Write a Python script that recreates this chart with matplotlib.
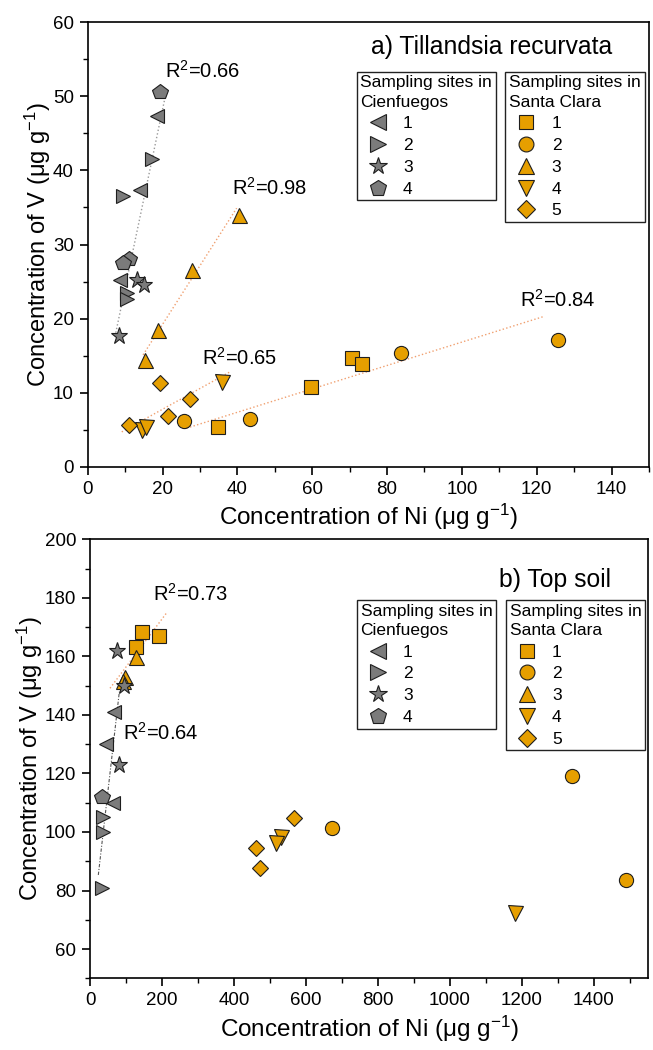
import matplotlib
matplotlib.use("Agg")
import matplotlib.pyplot as plt
from matplotlib.lines import Line2D
from matplotlib.ticker import MultipleLocator

plt.rcParams['font.family'] = ['Liberation Sans', 'DejaVu Sans']
plt.rcParams['mathtext.fontset'] = 'custom'
plt.rcParams['mathtext.rm'] = 'Liberation Sans'
plt.rcParams['mathtext.it'] = 'Liberation Sans:italic'

# ---------------- data: a) Tillandsia recurvata ----------------
top_cf1_ni = [18.6, 14.1, 8.6]
top_cf1_v = [47.3, 37.4, 25.2]
top_cf2_ni = [17.3, 9.3, 10.4, 10.6]
top_cf2_v = [41.6, 36.5, 23.4, 22.7]
top_cf3_ni = [13.2, 15.1, 8.4]
top_cf3_v = [25.2, 24.5, 17.7]
top_cf4_ni = [19.3, 11.1, 9.3]
top_cf4_v = [50.6, 28.0, 27.5]

top_sc1_ni = [34.9, 59.6, 70.5, 73.4]
top_sc1_v = [5.3, 10.7, 14.7, 13.9]
top_sc2_ni = [25.7, 43.5, 83.8, 125.8]
top_sc2_v = [6.2, 6.5, 15.4, 17.1]
top_sc3_ni = [40.5, 27.8, 18.8, 15.3]
top_sc3_v = [34.0, 26.6, 18.5, 14.4]
top_sc4_ni = [35.8, 14.4, 15.7]
top_sc4_v = [11.5, 5.0, 5.4]
top_sc5_ni = [19.3, 27.3, 21.5, 11.0]
top_sc5_v = [11.3, 9.1, 6.8, 5.6]

# trend lines (start/end) and R2 labels
top_trend_ni = [(7.3, 20.9), (14.8, 39.8), (9.1, 38.0), (26.4, 122.0)]
top_trend_v = [(17.6, 50.4), (15.1, 34.9), (4.7, 12.8), (5.2, 20.3)]
top_trend_group = ['cf', 'sc', 'sc', 'sc']
top_r2_text = ['R$^2$=0.66', 'R$^2$=0.98', 'R$^2$=0.65', 'R$^2$=0.84']
top_r2_ni = [20.7, 38.6, 30.5, 115.4]
top_r2_v = [53.5, 37.6, 14.7, 22.5]

# ---------------- data: b) Top soil ----------------
bot_cf1_ni = [64.8, 44.4, 67.6]
bot_cf1_v = [109.8, 130.0, 141.1]
bot_cf2_ni = [32.4, 35.2, 37.0]
bot_cf2_v = [80.9, 100.1, 105.2]
bot_cf3_ni = [80.6, 95.4, 76.0]
bot_cf3_v = [122.9, 149.9, 161.9]
bot_cf4_ni = [32.4]
bot_cf4_v = [111.8]

bot_sc1_ni = [143.5, 191.7, 126.8]
bot_sc1_v = [168.4, 167.0, 163.3]
bot_sc2_ni = [673.1, 1338.0, 1489.0]
bot_sc2_v = [101.3, 119.1, 83.6]
bot_sc3_ni = [127.8, 97.2, 92.0]
bot_sc3_v = [159.7, 153.0, 151.5]
bot_sc4_ni = [530.6, 516.7, 1180.6]
bot_sc4_v = [98.2, 96.3, 72.2]
bot_sc5_ni = [567.5, 461.1, 472.2]
bot_sc5_v = [104.9, 94.6, 87.6]

bot_trend_ni = [(23.1, 81.5), (55.6, 213.0)]
bot_trend_v = [(85.3, 147.9), (149.1, 174.9)]
bot_trend_group = ['cf', 'sc']
bot_r2_text = ['R$^2$=0.64', 'R$^2$=0.73']
bot_r2_ni = [90.7, 175.9]
bot_r2_v = [133.9, 181.2]

site_labels_cf = ['1', '2', '3', '4']
site_labels_sc = ['1', '2', '3', '4', '5']

# ---------------- styles ----------------
GRAY = '#7b7b7b'
ORANGE = '#E69F00'
EDGE = '#1e1e1e'
cf_markers = [('<', 10.5), ('>', 10.5), ('*', 12.5), ('p', 11.5)]
sc_markers = [('s', 9.8), ('o', 10.2), ('^', 10.8), ('v', 10.8), ('D', 8.6)]
trend_style = {'cf': dict(color='#9a9a9a', ls=':', lw=1.0),
               'sc': dict(color='#F0A070', ls=':', lw=1.0)}
bot_trend_style = {'cf': dict(color='#555555', ls=(0, (3, 1.5, 1, 1.5)), lw=0.8),
                   'sc': dict(color='#F0A070', ls=':', lw=1.0)}

fig = plt.figure(figsize=(6.53, 10.5), dpi=100)
ax1 = fig.add_axes([87.7/653, 1-466.7/1050, 561.3/653, 444.4/1050])
ax2 = fig.add_axes([90/653, 1-978.3/1050, 558/653, 439/1050])

def draw_points(ax, groups, markers, color):
    for (xs, ys), (m, ms) in zip(groups, markers):
        ax.plot(xs, ys, ls='none', marker=m, ms=ms, mfc=color, mec=EDGE,
                mew=0.8, zorder=3)

top_cf = [(top_cf1_ni, top_cf1_v), (top_cf2_ni, top_cf2_v),
          (top_cf3_ni, top_cf3_v), (top_cf4_ni, top_cf4_v)]
top_sc = [(top_sc1_ni, top_sc1_v), (top_sc2_ni, top_sc2_v), (top_sc3_ni, top_sc3_v),
          (top_sc4_ni, top_sc4_v), (top_sc5_ni, top_sc5_v)]
bot_cf = [(bot_cf1_ni, bot_cf1_v), (bot_cf2_ni, bot_cf2_v),
          (bot_cf3_ni, bot_cf3_v), (bot_cf4_ni, bot_cf4_v)]
bot_sc = [(bot_sc1_ni, bot_sc1_v), (bot_sc2_ni, bot_sc2_v), (bot_sc3_ni, bot_sc3_v),
          (bot_sc4_ni, bot_sc4_v), (bot_sc5_ni, bot_sc5_v)]

for xs, ys, g in zip(top_trend_ni, top_trend_v, top_trend_group):
    ax1.plot(xs, ys, zorder=2, **trend_style[g])
for xs, ys, g in zip(bot_trend_ni, bot_trend_v, bot_trend_group):
    ax2.plot(xs, ys, zorder=2, **bot_trend_style[g])

draw_points(ax1, top_sc, sc_markers, ORANGE)
draw_points(ax1, top_cf, cf_markers, GRAY)
draw_points(ax2, bot_sc, sc_markers, ORANGE)
draw_points(ax2, bot_cf, cf_markers, GRAY)

for t, x, y in zip(top_r2_text, top_r2_ni, top_r2_v):
    ax1.text(x, y, t, fontsize=14.5, va='center', ha='left')
for t, x, y in zip(bot_r2_text, bot_r2_ni, bot_r2_v):
    ax2.text(x, y, t, fontsize=14.5, va='center', ha='left')

ax1.text(0.934, 0.944, 'a) Tillandsia recurvata', transform=ax1.transAxes,
         fontsize=17.8, ha='right', va='center')
ax2.text(0.934, 0.907, 'b) Top soil', transform=ax2.transAxes,
         fontsize=17.8, ha='right', va='center')

# axes formatting
ax1.set_xlim(0, 150)
ax1.set_ylim(0, 60)
ax1.xaxis.set_major_locator(MultipleLocator(20))
ax1.xaxis.set_minor_locator(MultipleLocator(10))
ax1.yaxis.set_major_locator(MultipleLocator(10))
ax1.yaxis.set_minor_locator(MultipleLocator(5))
ax2.set_xlim(0, 1550)
ax2.set_ylim(50, 200)
ax2.xaxis.set_major_locator(MultipleLocator(200))
ax2.xaxis.set_minor_locator(MultipleLocator(100))
ax2.yaxis.set_major_locator(MultipleLocator(20))
ax2.yaxis.set_minor_locator(MultipleLocator(10))
ax2.set_yticks([60, 80, 100, 120, 140, 160, 180, 200])

xlab = 'Concentration of Ni (μg g$^{-1}$)'
ylab = 'Concentration of V (μg g$^{-1}$)'
for ax in (ax1, ax2):
    for sp in ax.spines.values():
        sp.set_linewidth(1.2)
    ax.tick_params(which='major', direction='out', length=6, width=1.2,
                   labelsize=13.5, pad=4)
    ax.tick_params(which='minor', direction='out', length=3.5, width=1.0)
    ax.set_xlabel(xlab, fontsize=17.5, labelpad=3)
    ax.set_ylabel(ylab, fontsize=17, labelpad=0)

# legends
def make_legends(ax, anchors):
    fs = 12.5
    common = dict(loc='upper left', fontsize=fs, title_fontsize=fs,
                  alignment='left', frameon=True, fancybox=False,
                  edgecolor='#222222', framealpha=1, borderpad=0.22,
                  handlelength=2.0, handletextpad=0.45, labelspacing=0.38,
                  borderaxespad=0)
    h_cf = [Line2D([], [], ls='none', marker=m, ms=ms * 1.05, mfc=GRAY, mec=EDGE, mew=0.8)
            for m, ms in cf_markers]
    h_sc = [Line2D([], [], ls='none', marker=m, ms=ms * 1.05, mfc=ORANGE, mec=EDGE, mew=0.8)
            for m, ms in sc_markers]
    l1 = ax.legend(h_cf, site_labels_cf, title='Sampling sites in\nCienfuegos',
                   bbox_to_anchor=anchors[0], **common)
    l1.get_frame().set_linewidth(1.0)
    l1.get_title().set_linespacing(1.35)
    l1.set_zorder(5)
    ax.add_artist(l1)
    l2 = ax.legend(h_sc, site_labels_sc, title='Sampling sites in\nSanta Clara',
                   bbox_to_anchor=anchors[1], **common)
    l2.get_frame().set_linewidth(1.0)
    l2.get_title().set_linespacing(1.35)
    l2.set_zorder(5)

make_legends(ax1, [(0.479, 0.889), (0.744, 0.889)])
make_legends(ax2, [(0.478, 0.862), (0.745, 0.862)])

fig.savefig('out.png', dpi=100)
